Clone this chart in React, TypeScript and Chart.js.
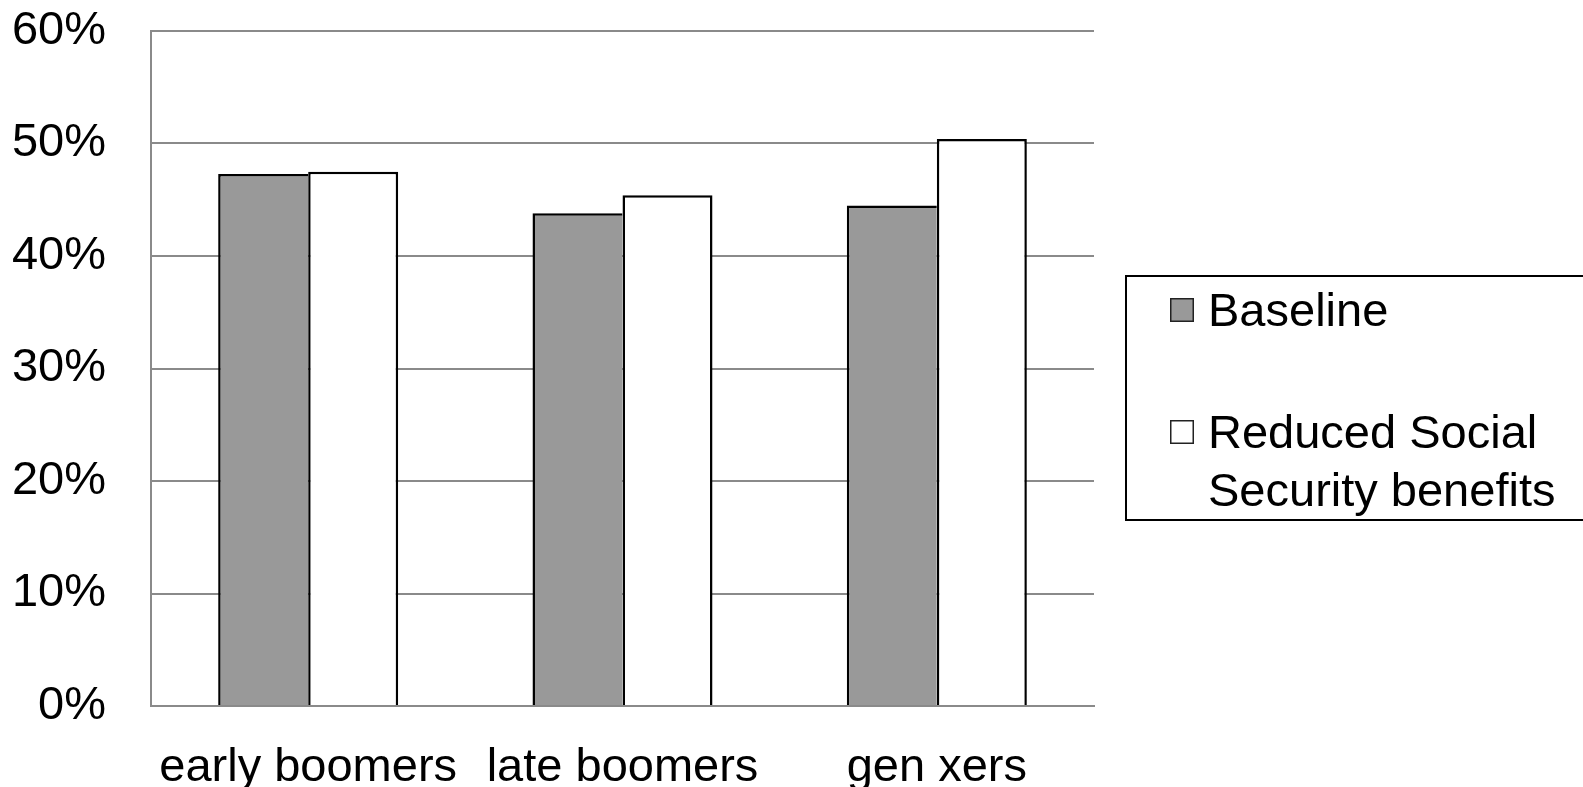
import React, { useEffect, useRef } from "react";
import { Chart, registerables } from "chart.js";

Chart.register(...registerables);

// Share of each cohort, in percent
const COHORTS = ["early boomers", "late boomers", "gen xers"];
const BASELINE = [47.3, 43.8, 44.5];
const REDUCED_SS = [47.5, 45.4, 50.4];
const SERIES_NAMES = ["Baseline", "Reduced Social Security benefits"];
const LEGEND_LINES = [["Baseline"], ["Reduced Social", "Security benefits"]];
const Y_TICKS = [0, 10, 20, 30, 40, 50, 60];

const FONT_FAMILY = "'Liberation Sans', Arial, Helvetica, sans-serif";
const AXIS_GRAY = "#8a8a8a";

// Boxed legend to the right of the plot, with a two-line entry
const boxedLegend = {
  id: "boxedLegend",
  afterDraw(chart: Chart) {
    const ctx = chart.ctx;
    const area = chart.chartArea;
    const left = area.right + 32;
    const top = 276;
    const height = 244;
    ctx.save();
    ctx.lineWidth = 2;
    ctx.strokeStyle = "#000";
    ctx.strokeRect(left, top, chart.width - left + 10, height);

    ctx.font = `47px ${FONT_FAMILY}`;
    ctx.textBaseline = "middle";
    ctx.textAlign = "left";
    const rowY = [310, 432];
    const lineGap = 58;
    chart.data.datasets.forEach((ds: any, i: number) => {
      const y = rowY[i];
      const mx = left + 44;
      const size = 24;
      ctx.fillStyle = ds.backgroundColor;
      ctx.fillRect(mx, y - size / 2, size, size);
      ctx.lineWidth = 1.5;
      ctx.strokeStyle = "#222";
      ctx.strokeRect(mx + 0.75, y - size / 2 + 0.75, size - 1.5, size - 1.5);
      ctx.fillStyle = "#000";
      LEGEND_LINES[i].forEach((line, j) => {
        ctx.fillText(line, left + 82, y + 3 + j * lineGap);
      });
    });
    ctx.restore();
  },
};

export default function App() {
  const canvasRef = useRef<HTMLCanvasElement | null>(null);

  useEffect(() => {
    if (!canvasRef.current) return;
    const chart = new Chart(canvasRef.current, {
      type: "bar",
      data: {
        labels: COHORTS,
        datasets: [
          {
            label: SERIES_NAMES[0],
            data: BASELINE,
            backgroundColor: "#999999",
            borderColor: "#000",
            borderWidth: { top: 2.5, left: 2.5, right: 0, bottom: 0 },
            borderSkipped: false,
            categoryPercentage: 0.5727,
            barPercentage: 1,
          },
          {
            label: SERIES_NAMES[1],
            data: REDUCED_SS,
            backgroundColor: "#ffffff",
            borderColor: "#000",
            borderWidth: { top: 2.5, left: 2.5, right: 2.5, bottom: 0 },
            borderSkipped: false,
            categoryPercentage: 0.5727,
            barPercentage: 1,
          },
        ],
      },
      options: {
        animation: false,
        responsive: true,
        maintainAspectRatio: false,
        layout: { padding: { top: 31, right: 489, left: 0, bottom: 0 } },
        plugins: {
          legend: { display: false },
          tooltip: { enabled: false },
        },
        scales: {
          x: {
            z: 1,
            grid: { display: false, drawTicks: false },
            border: { display: true, color: AXIS_GRAY, width: 2 },
            ticks: {
              color: "#000",
              font: { family: FONT_FAMILY, size: 47 },
              padding: 34,
              maxRotation: 0,
              autoSkip: false,
            },
            afterFit(scale: any) {
              scale.height = 81;
              scale.paddingLeft = 0;
              scale.paddingRight = 0;
            },
          },
          y: {
            min: Y_TICKS[0],
            max: Y_TICKS[Y_TICKS.length - 1],
            afterBuildTicks(scale: any) {
              scale.ticks = Y_TICKS.map((v) => ({ value: v }));
            },
            grid: { color: AXIS_GRAY, lineWidth: 2, drawTicks: false },
            border: { display: true, color: AXIS_GRAY, width: 2 },
            ticks: {
              color: "#000",
              font: { family: FONT_FAMILY, size: 47 },
              padding: 45,
              callback: (v: any) => `${v}%`,
            },
            afterFit(scale: any) {
              scale.width = 151;
              scale.paddingTop = 0;
              scale.paddingBottom = 0;
            },
          },
        },
      },
      plugins: [boxedLegend],
    });
    return () => chart.destroy();
  }, []);

  return (
    <div
      style={{
        position: "absolute",
        left: 0,
        top: 0,
        width: 1583,
        height: 787,
        background: "#fff",
      }}
    >
      <canvas ref={canvasRef} />
    </div>
  );
}
